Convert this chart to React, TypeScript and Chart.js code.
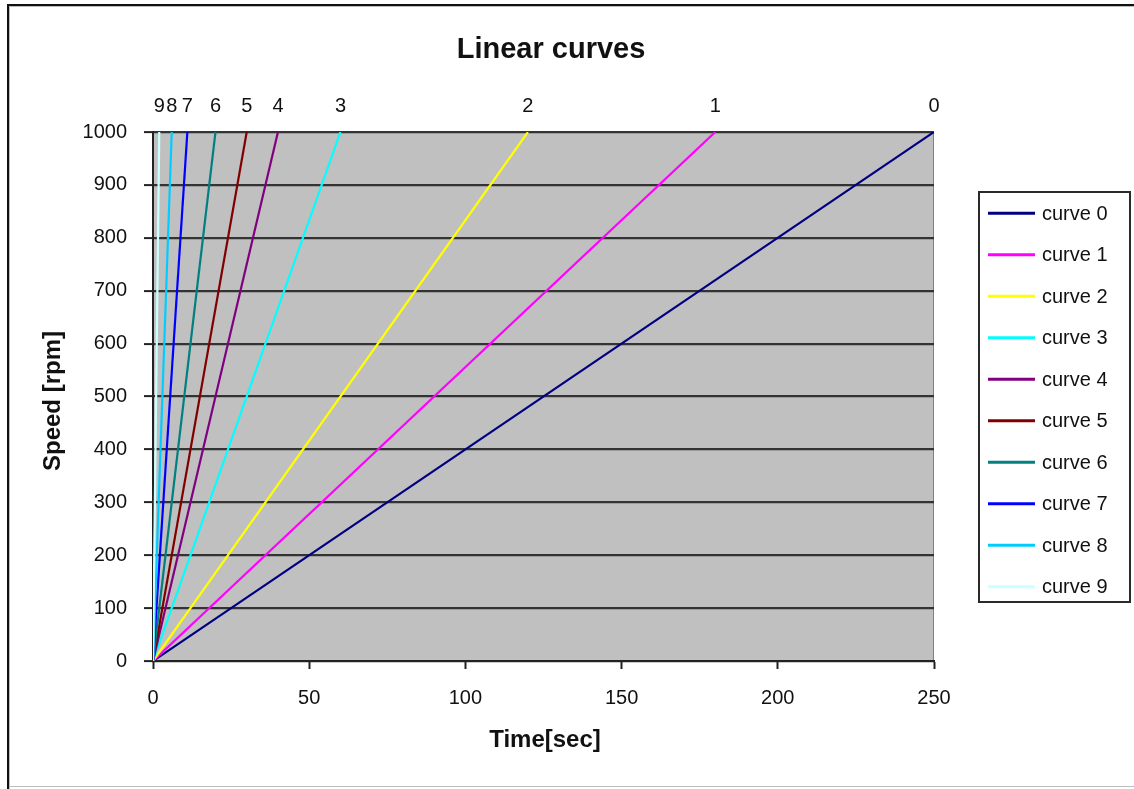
import { useEffect, useRef } from 'react';
import { Chart, registerables } from 'chart.js';

Chart.register(...registerables);

const W = 1134;
const H = 789;
const FONT = '"Liberation Sans", Arial, Helvetica, sans-serif';

const chartTitle = 'Linear curves';
const xTitle = 'Time[sec]';
const yTitle = 'Speed [rpm]';

const curveNames = ['curve 0', 'curve 1', 'curve 2', 'curve 3', 'curve 4', 'curve 5', 'curve 6', 'curve 7', 'curve 8', 'curve 9'];
const curveTags = ['0', '1', '2', '3', '4', '5', '6', '7', '8', '9'];
const startTimes = [0, 0, 0, 0, 0, 0, 0, 0, 0, 0];
const endTimes = [250, 180, 120, 60, 40, 30, 20, 11, 6, 2];
const startSpeeds = [0, 0, 0, 0, 0, 0, 0, 0, 0, 0];
const endSpeeds = [1000, 1000, 1000, 1000, 1000, 1000, 1000, 1000, 1000, 1000];
const curveColors = ['#000080', '#FF00FF', '#FFFF00', '#00FFFF', '#800080', '#800000', '#008080', '#0000FF', '#00CCFF', '#CCFFFF'];

const timeMin = 0;
const timeMax = 250;
const timeStep = 50;
const speedMin = 0;
const speedMax = 1000;
const speedStep = 100;

const decorPlugin = {
  id: 'decor',
  beforeDraw(chart: any) {
    const ctx = chart.ctx as CanvasRenderingContext2D;
    const a = chart.chartArea;
    ctx.save();
    ctx.fillStyle = '#ffffff';
    ctx.fillRect(0, 0, W, H);
    // outer frame
    ctx.fillStyle = '#111111';
    ctx.fillRect(7, 4, W - 7, 2);
    ctx.fillRect(7, 4, 2, H - 4);
    ctx.fillStyle = '#bdbdbd';
    ctx.fillRect(9, 6, W - 9, 1);
    ctx.fillRect(9, 6, 1, H - 6);
    ctx.fillRect(9, 786, W - 9, 1);
    // plot area
    ctx.fillStyle = '#C0C0C0';
    ctx.fillRect(a.left, a.top, a.right - a.left, a.bottom - a.top);
    ctx.strokeStyle = '#808080';
    ctx.lineWidth = 1;
    ctx.strokeRect(a.left + 0.5, a.top + 0.5, a.right - a.left - 1, a.bottom - a.top);
    ctx.restore();
  },
  afterDraw(chart: any) {
    const ctx = chart.ctx as CanvasRenderingContext2D;
    ctx.save();
    ctx.fillStyle = '#111111';
    // title
    ctx.font = `bold 29px ${FONT}`;
    ctx.textAlign = 'center';
    ctx.textBaseline = 'alphabetic';
    ctx.fillText(chartTitle, 551, 58);
    // x title
    ctx.font = `bold 24px ${FONT}`;
    ctx.fillText(xTitle, 545, 747);
    // y title
    ctx.save();
    ctx.translate(60, 401);
    ctx.rotate(-Math.PI / 2);
    ctx.fillText(yTitle, 0, 0);
    ctx.restore();
    // curve tags above the end of each curve
    ctx.font = `20px ${FONT}`;
    chart.data.datasets.forEach((_: any, i: number) => {
      const meta = chart.getDatasetMeta(i);
      const pt = meta.data[meta.data.length - 1];
      ctx.fillText(curveTags[i], pt.x, 112);
    });
    // legend
    const lx = 978, ly = 191, lw = 153, lh = 412;
    ctx.fillStyle = '#ffffff';
    ctx.fillRect(lx, ly, lw, lh);
    ctx.strokeStyle = '#2a2a2a';
    ctx.lineWidth = 2;
    ctx.strokeRect(lx + 1, ly + 1, lw - 2, lh - 2);
    ctx.font = `20px ${FONT}`;
    ctx.textAlign = 'left';
    ctx.textBaseline = 'middle';
    curveNames.forEach((name, i) => {
      const y = 213.3 + i * 41.5;
      ctx.strokeStyle = curveColors[i];
      ctx.lineWidth = 3;
      ctx.beginPath();
      ctx.moveTo(988, y);
      ctx.lineTo(1035, y);
      ctx.stroke();
      ctx.fillStyle = '#111111';
      ctx.fillText(name, 1042, y + 1);
    });
    ctx.restore();
  },
};

export default function App() {
  const ref = useRef<HTMLCanvasElement>(null);

  useEffect(() => {
    const datasets = curveNames.map((name, i) => ({
      label: name,
      data: [
        { x: startTimes[i], y: startSpeeds[i] },
        { x: endTimes[i], y: endSpeeds[i] },
      ],
      borderColor: curveColors[i],
      backgroundColor: curveColors[i],
      borderWidth: 2.2,
      pointRadius: 0,
      fill: false,
      tension: 0,
      order: curveNames.length - 1 - i,
    }));

    const chart = new Chart(ref.current as HTMLCanvasElement, {
      type: 'line',
      data: { datasets },
      options: {
        animation: false,
        responsive: false,
        devicePixelRatio: 1,
        layout: { padding: { left: 0, top: 132, right: 200, bottom: 0 } },
        plugins: {
          legend: { display: false },
          title: { display: false },
          tooltip: { enabled: false },
        },
        scales: {
          x: {
            type: 'linear',
            position: 'bottom',
            min: timeMin,
            max: timeMax,
            ticks: {
              stepSize: timeStep,
              color: '#111111',
              font: { family: FONT, size: 20 },
              padding: 17,
              maxRotation: 0,
              callback: (v: any) => String(v),
            },
            grid: {
              drawOnChartArea: false,
              drawTicks: true,
              tickLength: 8,
              tickColor: '#222222',
              tickWidth: 2,
            },
            border: { color: '#222222', width: 2 },
            afterFit: (s: any) => {
              s.height = 128;
            },
          },
          y: {
            type: 'linear',
            min: speedMin,
            max: speedMax,
            ticks: {
              stepSize: speedStep,
              color: '#111111',
              font: { family: FONT, size: 20 },
              padding: 17,
              callback: (v: any) => String(v),
            },
            grid: {
              color: '#333333',
              lineWidth: 2.2,
              drawTicks: true,
              tickLength: 9,
              tickColor: '#222222',
              tickWidth: 2,
            },
            border: { color: '#222222', width: 2 },
            afterFit: (s: any) => {
              s.width = 153;
            },
          },
        },
      },
      plugins: [decorPlugin],
    } as any);

    return () => chart.destroy();
  }, []);

  return (
    <div style={{ position: 'absolute', left: 0, top: 0, width: W, height: H }}>
      <canvas ref={ref} width={W} height={H} style={{ display: 'block', width: W, height: H }} />
    </div>
  );
}
